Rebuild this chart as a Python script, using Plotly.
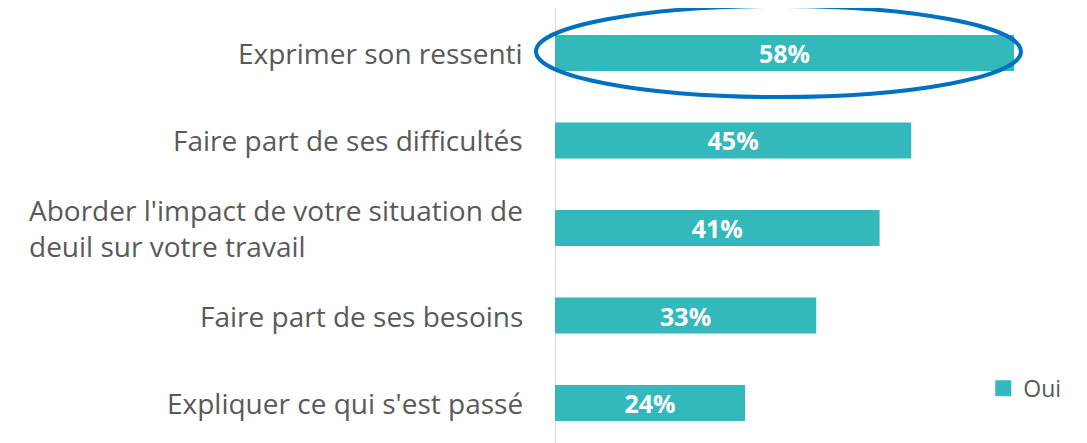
import plotly.graph_objects as go

categories = [
    "Exprimer son ressenti",
    "Faire part de ses difficultés",
    "Aborder l'impact de votre situation de<br>deuil sur votre travail",
    "Faire part de ses besoins",
    "Expliquer ce qui s'est passé",
]
values = [58, 45, 41, 33, 24]
series_name = "Oui"
highlight_index = 0

TEAL = "#33B8BC"
GREY_TEXT = "#595959"
FONT = "Open Sans"

X_RANGE = [0, 67.2]
Y_RANGE = [4.457, -0.514]

fig = go.Figure()
fig.add_trace(go.Bar(
    x=values,
    y=list(range(len(categories))),
    orientation="h",
    name=series_name,
    marker=dict(color=TEAL, line=dict(width=0)),
    width=0.41,
    text=[f"{v}%" for v in values],
    textposition="inside",
    insidetextanchor="middle",
    constraintext="none",
    textfont=dict(color="white", size=25, family=FONT),
    texttemplate="<b>%{text}</b>",
    showlegend=False,
))
# legend entry (larger square swatch)
fig.add_trace(go.Scatter(
    x=[None], y=[None], mode="markers", name=series_name,
    marker=dict(symbol="square", size=16, color=TEAL),
    showlegend=True,
))

# category labels
for i, c in enumerate(categories):
    fig.add_annotation(
        x=-0.056, xref="paper", y=i, yref="y",
        text=c, showarrow=False, xanchor="right", yanchor="middle",
        align="left", font=dict(family=FONT, size=28, color=GREY_TEXT),
    )

# highlight ellipse (paper coords so it is not clipped by the plot area)
def px(d):
    return (d - X_RANGE[0]) / (X_RANGE[1] - X_RANGE[0])

def py(d):
    return (Y_RANGE[0] - d) / (Y_RANGE[0] - Y_RANGE[1])

hv = values[highlight_index]
fig.add_shape(
    type="circle", xref="paper", yref="paper",
    x0=px(-2.4), x1=px(hv + 0.86),
    y0=py(highlight_index + 0.503), y1=py(highlight_index - 0.537),
    line=dict(color="#0070C0", width=4),
    fillcolor="rgba(0,0,0,0)",
)

fig.update_layout(
    width=1079, height=435,
    margin=dict(l=547, r=0, t=0, b=0),
    paper_bgcolor="white", plot_bgcolor="white",
    bargap=0.6,
    font=dict(family=FONT, color=GREY_TEXT),
    legend=dict(
        x=0.805, y=0.126, xanchor="left", yanchor="middle",
        font=dict(size=23, color=GREY_TEXT, family=FONT),
        itemwidth=30, bgcolor="rgba(0,0,0,0)",
    ),
    xaxis=dict(range=X_RANGE, showgrid=False, showticklabels=False,
               zeroline=False, showline=False, ticks=""),
    yaxis=dict(range=Y_RANGE, showgrid=False, showticklabels=False,
               zeroline=False, showline=False, ticks=""),
)
# vertical axis line
fig.add_shape(type="line", xref="x", yref="paper", x0=0, x1=0, y0=0, y1=1,
              line=dict(color="#D9D9D9", width=2), layer="below")

fig.write_html("out.html")
